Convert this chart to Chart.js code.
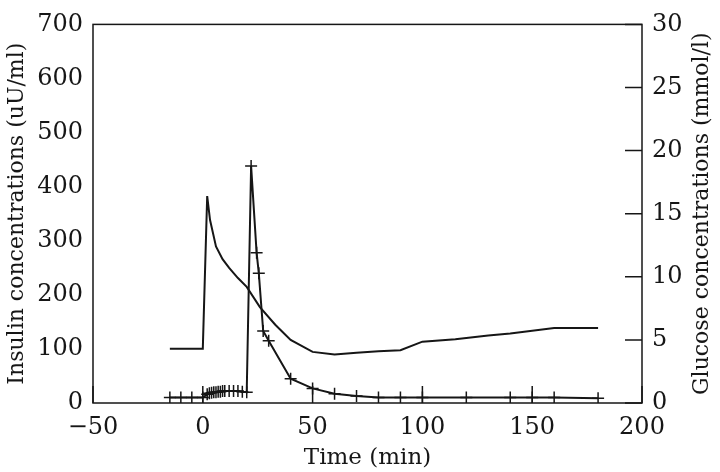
<!DOCTYPE html>
<html><head><meta charset="utf-8">
<script src="https://cdn.jsdelivr.net/npm/chart.js@4.4.1/dist/chart.umd.min.js"></script>
<style>html,body{margin:0;padding:0;background:#fff}#w{width:720px;height:472px}</style>
</head><body><div id="w"><canvas id="c" width="720" height="472"></canvas></div>
<script>
const xTicks = [-50, 0, 50, 100, 150, 200];
const insulinTicks = [0, 100, 200, 300, 400, 500, 600, 700];
const glucoseTicks = [0, 5, 10, 15, 20, 25, 30];

const insulinTime = [-15,-10,-5,0,2,3,4,5,6,7,8,9,10,12,14,16,18,20,22,24.5,25.5,27.5,30,40,50,60,70,80,90,100,120,140,150,160,180];
const insulinVal  = [10,10,10,10,16,18,19,20,20,21,21,22,22,22,22,22,21,20,438,278,240,133,115,45,27,17,13,10,10,10,10,10,10,10,9];

const glucoseTime = [-15,0,2,3.3,6,9,12,16,20,26,33,40,50,60,70,80,90,100,115,130,140,160,180];
const glucoseVal  = [4.3,4.3,16.4,14.5,12.4,11.4,10.7,9.9,9.2,7.6,6.2,5.0,4.05,3.85,3.98,4.1,4.18,4.86,5.06,5.35,5.5,5.95,5.95];

const INK = '#161616';
const FONT = 'DejaVu Serif';
const rightTitle = 'Glucose concentrations (mmol/l)';

const frame = {
  id: 'frame',
  afterDraw(chart) {
    const {ctx, chartArea: a, scales} = chart;
    ctx.save();
    ctx.strokeStyle = INK; ctx.lineWidth = 1.5;
    ctx.strokeRect(a.left, a.top, a.right - a.left, a.bottom - a.top);
    const L = 17;
    ctx.beginPath();
    scales.x.ticks.forEach(t => { const p = scales.x.getPixelForValue(t.value); ctx.moveTo(p, a.bottom); ctx.lineTo(p, a.bottom - L); });
    scales.y2.ticks.forEach(t => { const p = scales.y2.getPixelForValue(t.value); ctx.moveTo(a.right, p); ctx.lineTo(a.right - L, p); });
    ctx.stroke();
    // right axis title, read bottom-to-top
    ctx.fillStyle = INK;
    ctx.font = '22px "' + FONT + '"';
    ctx.textAlign = 'center'; ctx.textBaseline = 'middle';
    ctx.translate(scales.y2.right - 18, (a.top + a.bottom) / 2);
    ctx.rotate(-Math.PI / 2);
    ctx.fillText(rightTitle, 0, 0);
    ctx.restore();
  }
};

new Chart(document.getElementById('c'), {
  type: 'line',
  data: {
    datasets: [
      {
        label: 'Insulin',
        data: insulinTime.map((t, i) => ({x: t, y: insulinVal[i]})),
        yAxisID: 'y',
        borderColor: INK, borderWidth: 2,
        pointStyle: 'cross', pointRadius: 6, pointBorderWidth: 1.5,
        pointBorderColor: INK, pointBackgroundColor: INK,
        tension: 0
      },
      {
        label: 'Glucose',
        data: glucoseTime.map((t, i) => ({x: t, y: glucoseVal[i]})),
        yAxisID: 'y2',
        borderColor: INK, borderWidth: 2,
        pointRadius: 0, tension: 0
      }
    ]
  },
  options: {
    responsive: false, animation: false,
    layout: {padding: {top: 10, left: 0, right: 0, bottom: 0}},
    plugins: {legend: {display: false}, tooltip: {enabled: false}},
    scales: {
      x: {
        type: 'linear', min: -50, max: 200,
        afterBuildTicks: s => { s.ticks = xTicks.map(v => ({value: v})); },
        afterFit: s => { s.height = 69; },
        grid: {display: false, drawTicks: false},
        border: {display: false},
        ticks: {color: INK, font: {family: FONT, size: 24}, padding: 10, maxRotation: 0,
          callback: v => v < 0 ? '\u2212' + Math.abs(v) : String(v)},
        title: {display: true, text: 'Time (min)', color: INK, font: {family: FONT, size: 23}, padding: {top: 0, bottom: 0}}
      },
      y: {
        position: 'left', min: 0, max: 700,
        afterBuildTicks: s => { s.ticks = insulinTicks.map(v => ({value: v})); },
        afterFit: s => { s.width = 93; },
        grid: {display: false, drawTicks: false},
        border: {display: false},
        ticks: {color: INK, font: {family: FONT, size: 24}, padding: 10},
        title: {display: true, text: 'Insulin concentrations (uU/ml)', color: INK, font: {family: FONT, size: 22}, padding: {top: 4, bottom: 2}}
      },
      y2: {
        position: 'right', min: 0, max: 30,
        afterBuildTicks: s => { s.ticks = glucoseTicks.map(v => ({value: v})); },
        afterFit: s => { s.width = 78; },
        grid: {display: false, drawTicks: false},
        border: {display: false},
        ticks: {color: INK, font: {family: FONT, size: 24}, padding: 10},
        title: {display: false, text: rightTitle}
      }
    }
  },
  plugins: [frame]
});
</script></body></html>
